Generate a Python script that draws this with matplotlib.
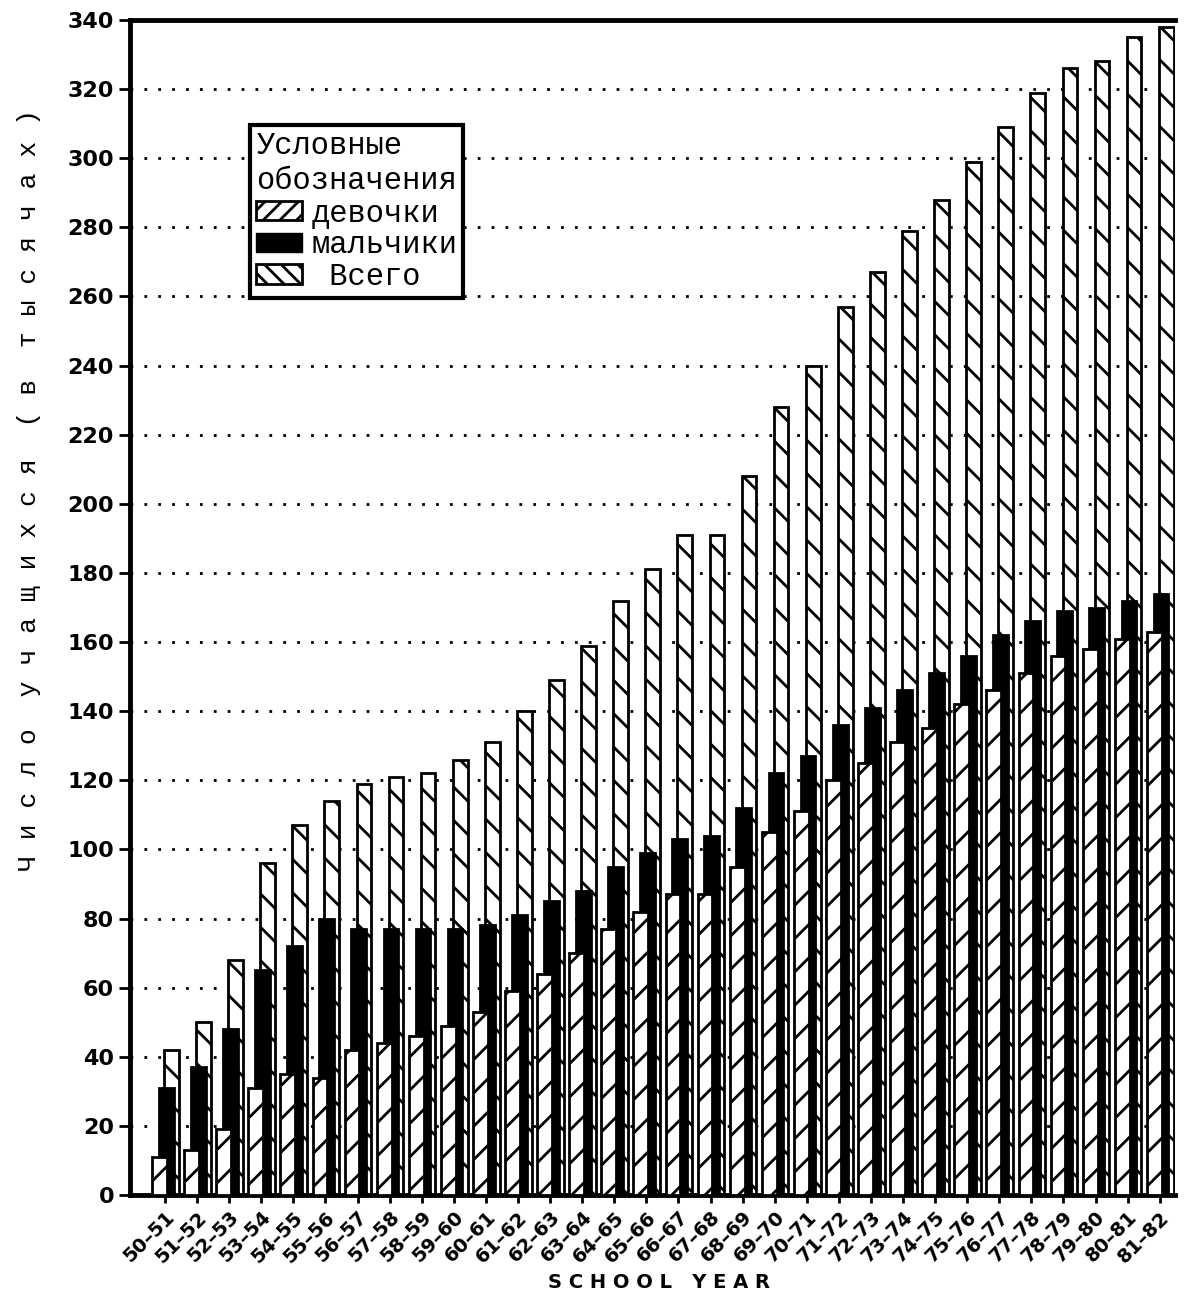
import matplotlib
matplotlib.use("Agg")
import matplotlib.pyplot as plt
import numpy as np
from matplotlib.patches import Patch

# school years and enrolment (thousands)
years = ["50–51", "51–52", "52–53", "53–54", "54–55", "55–56", "56–57", "57–58",
         "58–59", "59–60", "60–61", "61–62", "62–63", "63–64", "64–65", "65–66",
         "66–67", "67–68", "68–69", "69–70", "70–71", "71–72", "72–73", "73–74",
         "74–75", "75–76", "76–77", "77–78", "78–79", "79–80", "80–81", "81–82"]
girls = [11, 13, 19, 31, 35, 34, 42, 44, 46, 49, 53, 59, 64, 70, 77, 82,
         87, 87, 95, 105, 111, 120, 125, 131, 135, 142, 146, 151, 156, 158, 161, 163]
boys = [31, 37, 48, 65, 72, 80, 77, 77, 77, 77, 78, 81, 85, 88, 95, 99,
        103, 104, 112, 122, 127, 136, 141, 146, 151, 156, 162, 166, 169, 170, 172, 174]
total = [42, 50, 68, 96, 107, 114, 119, 121, 122, 126, 131, 140, 149, 159, 172, 181,
         191, 191, 208, 228, 240, 257, 267, 279, 288, 299, 309, 319, 326, 328, 335, 338]

mono = "Liberation Mono"
plt.rcParams["hatch.linewidth"] = 2.0

fig = plt.figure(figsize=(11.86, 12.97), dpi=100)
ax = fig.add_axes([0.1096, 0.0786, 0.881, 0.906])

x = np.arange(len(years))
w = 0.46
ax.bar(x + 0.20, total, w, facecolor="white", edgecolor="black", linewidth=2,
       hatch="\\", zorder=2)
ax.bar(x + 0.04, boys, w, facecolor="black", edgecolor="black", linewidth=2,
       zorder=3)
ax.bar(x - 0.17, girls, w, facecolor="white", edgecolor="black", linewidth=2,
       hatch="/", zorder=4)

ax.set_xlim(-1.09, 31.47)
ax.set_ylim(0, 340)
ax.set_yticks(np.arange(0, 341, 20))
ax.set_yticklabels([str(v) for v in range(0, 341, 20)], fontsize=16, fontweight="bold")
ax.set_xticks(x)
ax.set_xticklabels(years, rotation=45, ha="right", rotation_mode="anchor",
                   fontsize=14, fontweight="bold")
ax.tick_params(axis="both", width=2, length=8, direction="out")
ax.tick_params(axis="x", length=6, pad=3)

ax.grid(axis="y", color="black", linestyle=(0, (1, 4)), linewidth=2, zorder=1)
ax.set_axisbelow(True)
for side in ["left", "bottom", "top"]:
    ax.spines[side].set_linewidth(3.5)
ax.spines["right"].set_visible(False)

# typewriter-style spaced lettering, as in the original
ylab = "Число учащихся (в тысячах)"
spaced = "  ".join(" ".join(word) for word in ylab.split())
ax.set_ylabel(spaced, family=mono, fontsize=19)
ax.yaxis.set_label_coords(-0.085, 0.60)
fig.text(0.556, 0.004, "S C H O O L   Y E A R", fontsize=14, fontweight="bold",
         ha="center", va="bottom")

handles = [Patch(facecolor="white", edgecolor="black", hatch="//", linewidth=2),
           Patch(facecolor="black", edgecolor="black"),
           Patch(facecolor="white", edgecolor="black", hatch="\\\\", linewidth=2)]
leg = ax.legend(handles, ["девочки", "мальчики", " Всего"],
                title="Условные\nобозначения", loc="upper left",
                bbox_to_anchor=(0.115, 0.9106), borderaxespad=0,
                prop={"family": mono, "size": 22},
                title_fontproperties={"family": mono, "size": 22},
                fancybox=False, framealpha=1, edgecolor="black",
                handlelength=1.5, handleheight=0.6, handletextpad=0.3,
                borderpad=0.2, labelspacing=0.05)
leg._legend_box.align = "left"
leg._legend_box.sep = 2
leg.get_frame().set_linewidth(3)
leg.set_zorder(10)

fig.savefig("out.png", dpi=100)
